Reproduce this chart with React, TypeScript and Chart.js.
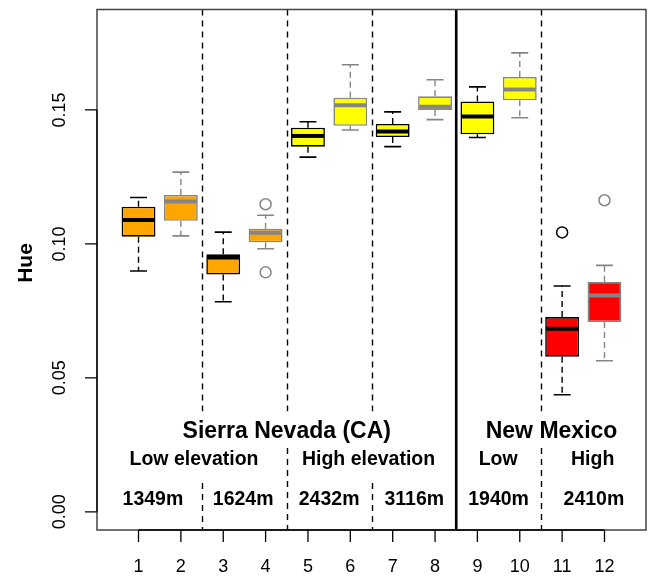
import React, { useEffect, useRef } from "react";
import { Chart, registerables } from "chart.js";

Chart.register(...registerables);

// ---------- data ----------
const CATEGORIES = [1, 2, 3, 4, 5, 6, 7, 8, 9, 10, 11, 12];
const WHISKER_LOW = [0.0899, 0.103, 0.0784, 0.0982, 0.1324, 0.1425, 0.1363, 0.1464, 0.1397, 0.1471, 0.0437, 0.0564];
const Q1 = [0.1027, 0.1086, 0.0886, 0.1006, 0.1363, 0.1441, 0.1399, 0.15, 0.1409, 0.1536, 0.0579, 0.0708];
const MEDIAN = [0.1089, 0.1158, 0.0949, 0.1042, 0.1403, 0.1518, 0.142, 0.1512, 0.1476, 0.1576, 0.0683, 0.0807];
const Q3 = [0.1139, 0.1183, 0.0961, 0.1057, 0.1434, 0.1546, 0.1448, 0.1551, 0.1532, 0.1623, 0.0727, 0.0859];
const WHISKER_HIGH = [0.1173, 0.1268, 0.1044, 0.1107, 0.1456, 0.1669, 0.1493, 0.1613, 0.1586, 0.1713, 0.0843, 0.092];
const OUTLIER_X = [4, 4, 11, 12];
const OUTLIER_Y = [0.1148, 0.0894, 0.1043, 0.1163];

const Y_TICKS = [0, 0.05, 0.1, 0.15];
const Y_TICK_LABELS = ["0.00", "0.05", "0.10", "0.15"];
const X_TICK_LABELS = ["1", "2", "3", "4", "5", "6", "7", "8", "9", "10", "11", "12"];

const REGION_LABELS = ["Sierra Nevada (CA)", "New Mexico"];
const REGION_X = [4.5, 10.75];
const ELEVATION_LABELS = ["Low elevation", "High elevation", "Low", "High"];
const ELEVATION_X = [2.31, 6.43, 9.49, 11.72];
const SITE_LABELS = ["1349m", "1624m", "2432m", "3116m", "1940m", "2410m"];
const SITE_X = [1.34, 3.47, 5.5, 7.51, 9.5, 11.75];
const Y_TITLE = "Hue";

// ---------- styles / layout ----------
const FILLS = ["#FFA500", "#FFA500", "#FFA500", "#FFA500", "#FFFF00", "#FFFF00", "#FFFF00", "#FFFF00", "#FFFF00", "#FFFF00", "#FF0000", "#FF0000"];
const lineColorFor = (c: number) => (c % 2 === 1 ? "#000000" : "#858585");
const FONT = '"Liberation Sans", Arial, Helvetica, sans-serif';
const X_MIN = 0.02, X_MAX = 12.98, Y_MIN = -0.0068, Y_MAX = 0.1875;
const DASH_SEPARATORS = [2.5, 4.5, 6.5, 10.5];
const SEP_BOTTOM_START = [0.0107, 0.0238, 0.0107, 0.0238];
const SEP_TOP_END = 0.0375;
const SOLID_SEPARATOR = 8.5;
const ROW_Y = { region: 0.0298, elevation: 0.0193, site: 0.0044 };

const boxPlugin = {
  id: "boxExtras",
  beforeDatasetsDraw(chart: any) {
    const { ctx, scales } = chart;
    const xs = scales.x, ys = scales.y;
    ctx.save();
    ctx.strokeStyle = "#000";
    ctx.lineWidth = 1.4;
    ctx.setLineDash([6, 5]);
    DASH_SEPARATORS.forEach((xv, i) => {
      const px = Math.round(xs.getPixelForValue(xv)) + 0.5;
      ctx.beginPath();
      ctx.moveTo(px, ys.getPixelForValue(Y_MAX));
      ctx.lineTo(px, ys.getPixelForValue(SEP_TOP_END));
      ctx.moveTo(px, ys.getPixelForValue(SEP_BOTTOM_START[i]));
      ctx.lineTo(px, ys.getPixelForValue(Y_MIN));
      ctx.stroke();
    });
    ctx.setLineDash([]);
    ctx.lineWidth = 2.6;
    const sx = xs.getPixelForValue(SOLID_SEPARATOR);
    ctx.beginPath();
    ctx.moveTo(sx, ys.getPixelForValue(Y_MAX));
    ctx.lineTo(sx, ys.getPixelForValue(Y_MIN));
    ctx.stroke();
    ctx.restore();
  },
  afterDatasetsDraw(chart: any) {
    const { ctx, scales } = chart;
    const xs = scales.x, ys = scales.y;
    const unit = xs.getPixelForValue(2) - xs.getPixelForValue(1);
    ctx.save();
    CATEGORIES.forEach((c, i) => {
      const px = xs.getPixelForValue(c);
      const col = lineColorFor(c);
      ctx.strokeStyle = col;
      // whiskers
      ctx.lineWidth = 1.4;
      ctx.setLineDash([6, 4]);
      ctx.beginPath();
      ctx.moveTo(px, ys.getPixelForValue(Q3[i]));
      ctx.lineTo(px, ys.getPixelForValue(WHISKER_HIGH[i]));
      ctx.moveTo(px, ys.getPixelForValue(Q1[i]));
      ctx.lineTo(px, ys.getPixelForValue(WHISKER_LOW[i]));
      ctx.stroke();
      ctx.setLineDash([]);
      // caps
      const ch = unit * 0.2;
      ctx.lineWidth = 1.6;
      ctx.beginPath();
      ctx.moveTo(px - ch, ys.getPixelForValue(WHISKER_HIGH[i]));
      ctx.lineTo(px + ch, ys.getPixelForValue(WHISKER_HIGH[i]));
      ctx.moveTo(px - ch, ys.getPixelForValue(WHISKER_LOW[i]));
      ctx.lineTo(px + ch, ys.getPixelForValue(WHISKER_LOW[i]));
      ctx.stroke();
      // median
      const bh = unit * 0.4;
      ctx.lineWidth = 4;
      ctx.beginPath();
      ctx.moveTo(px - bh + 1, ys.getPixelForValue(MEDIAN[i]));
      ctx.lineTo(px + bh - 1, ys.getPixelForValue(MEDIAN[i]));
      ctx.stroke();
    });
    ctx.restore();
  },
  afterDraw(chart: any) {
    const { ctx, scales, chartArea } = chart;
    const xs = scales.x, ys = scales.y;
    ctx.save();
    // frame
    ctx.strokeStyle = "#444";
    ctx.lineWidth = 1.5;
    ctx.strokeRect(chartArea.left, chartArea.top, chartArea.right - chartArea.left, chartArea.bottom - chartArea.top);
    // y axis
    ctx.strokeStyle = "#000";
    ctx.lineWidth = 1.3;
    const y0 = ys.getPixelForValue(Y_TICKS[0]);
    const y1 = ys.getPixelForValue(Y_TICKS[Y_TICKS.length - 1]);
    ctx.beginPath();
    ctx.moveTo(chartArea.left, y0);
    ctx.lineTo(chartArea.left, y1);
    Y_TICKS.forEach((t) => {
      const py = ys.getPixelForValue(t);
      ctx.moveTo(chartArea.left, py);
      ctx.lineTo(chartArea.left - 12, py);
    });
    // x axis
    const x0 = xs.getPixelForValue(CATEGORIES[0]);
    const x1 = xs.getPixelForValue(CATEGORIES[CATEGORIES.length - 1]);
    ctx.moveTo(x0, chartArea.bottom);
    ctx.lineTo(x1, chartArea.bottom);
    CATEGORIES.forEach((c) => {
      const px = xs.getPixelForValue(c);
      ctx.moveTo(px, chartArea.bottom);
      ctx.lineTo(px, chartArea.bottom + 12);
    });
    ctx.stroke();
    ctx.fillStyle = "#000";
    ctx.font = `18px ${FONT}`;
    ctx.textAlign = "center";
    ctx.textBaseline = "middle";
    CATEGORIES.forEach((c, i) => {
      ctx.fillText(X_TICK_LABELS[i], xs.getPixelForValue(c), chartArea.bottom + 37);
    });
    Y_TICKS.forEach((t, i) => {
      ctx.save();
      ctx.translate(chartArea.left - 37, ys.getPixelForValue(t));
      ctx.rotate(-Math.PI / 2);
      ctx.fillText(Y_TICK_LABELS[i], 0, 0);
      ctx.restore();
    });
    // y title
    ctx.save();
    ctx.font = `bold 21px ${FONT}`;
    ctx.translate(26, 263);
    ctx.rotate(-Math.PI / 2);
    ctx.fillText(Y_TITLE, 0, 0);
    ctx.restore();
    // annotations
    ctx.font = `bold 23px ${FONT}`;
    REGION_LABELS.forEach((t, i) => ctx.fillText(t, xs.getPixelForValue(REGION_X[i]), ys.getPixelForValue(ROW_Y.region)));
    ctx.font = `bold 19.5px ${FONT}`;
    ELEVATION_LABELS.forEach((t, i) => ctx.fillText(t, xs.getPixelForValue(ELEVATION_X[i]), ys.getPixelForValue(ROW_Y.elevation)));
    SITE_LABELS.forEach((t, i) => ctx.fillText(t, xs.getPixelForValue(SITE_X[i]), ys.getPixelForValue(ROW_Y.site)));
    ctx.restore();
  },
};

export default function App() {
  const ref = useRef<HTMLCanvasElement>(null);
  useEffect(() => {
    if (!ref.current) return;
    const chart = new Chart(ref.current, {
      type: "bar",
      data: {
        datasets: [
          {
            type: "bar",
            data: CATEGORIES.map((c, i) => ({ x: c, y: [Q1[i], Q3[i]] })) as any,
            backgroundColor: FILLS,
            borderColor: CATEGORIES.map(lineColorFor),
            borderWidth: 1.6,
            borderSkipped: false,
            barPercentage: 0.8,
            categoryPercentage: 1,
          } as any,
          {
            type: "scatter",
            data: OUTLIER_X.map((x, i) => ({ x, y: OUTLIER_Y[i] })),
            pointRadius: 5.5,
            pointStyle: "circle",
            backgroundColor: "rgba(0,0,0,0)",
            borderColor: OUTLIER_X.map(lineColorFor),
            borderWidth: 1.5,
          } as any,
        ],
      },
      options: {
        animation: false,
        responsive: false,
        events: [],
        layout: { padding: { left: 97, right: 5, top: 9.5, bottom: 46 } },
        plugins: { legend: { display: false }, tooltip: { enabled: false } },
        scales: {
          x: { type: "linear", min: X_MIN, max: X_MAX, display: false, offset: false },
          y: { type: "linear", min: Y_MIN, max: Y_MAX, display: false },
        },
      },
      plugins: [boxPlugin],
    });
    return () => chart.destroy();
  }, []);
  return (
    <div style={{ position: "fixed", left: 0, top: 0, width: 653, height: 576, background: "#fff" }}>
      <canvas ref={ref} width={653} height={576} />
    </div>
  );
}
